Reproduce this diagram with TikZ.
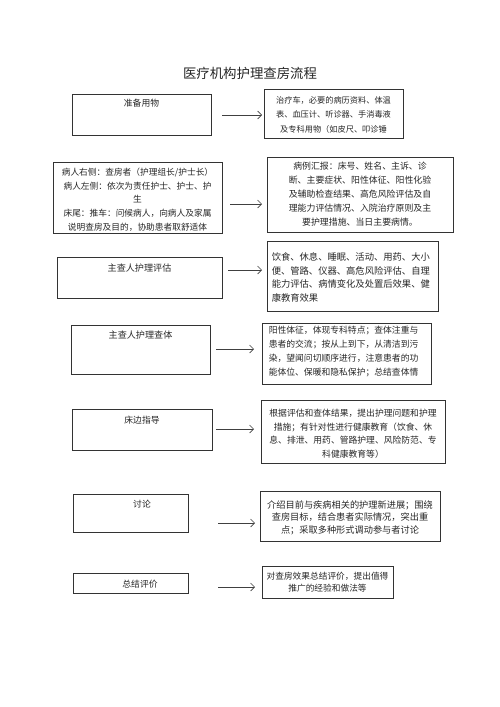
\documentclass[tikz,border=0pt]{standalone}
\usepackage{fontspec}
\setmainfont{Noto Sans CJK SC}
\usepackage{tikz}
\usetikzlibrary{arrows.meta, positioning}

\begin{document}
\begin{tikzpicture}[x=1pt, y=-1pt,
    box/.style={draw=black!80, line width=0.9pt, rectangle, inner sep=0pt},
    txt/.style={text=black!85, align=center, inner sep=0pt, font={\fontsize{8.8pt}{14pt}\selectfont}},
    arr/.style={draw=black!75, line width=0.6pt, -{Straight Barb[length=4pt, width=8pt]}}]
    \useasboundingbox (0,0) rectangle (500,707);

    \node[text=black!85, font={\fontsize{13.4pt}{16pt}\selectfont}] (title) at (250,73) {医疗机构护理查房流程};

    % left column
    \node[box, minimum width=139pt, minimum height=41pt] (l1) at (141.5,114.5) {};
    \node[box, minimum width=169pt, minimum height=71pt] (l2) at (137.5,197.5) {};
    \node[box, minimum width=165pt, minimum height=41pt] (l3) at (139.5,277.5) {};
    \node[box, minimum width=139pt, minimum height=49pt] (l4) at (140.5,349.5) {};
    \node[box, minimum width=140pt, minimum height=41pt] (l5) at (142,429.5) {};
    \node[box, minimum width=115pt, minimum height=38pt] (l6) at (130.5,513) {};
    \node[box, minimum width=115pt, minimum height=20pt] (l7) at (130.5,583) {};

    \node[txt] (t1) at ([yshift=-10pt]l1.north) {准备用物};
    \node[txt, font={\fontsize{8.7pt}{13.75pt}\selectfont}] (t2) at ([yshift=-2pt]l2.center)
        {病人右侧：查房者（护理组长/护士长）\\病人左侧：依次为责任护士、护士、护\\生\\床尾：推车：问候病人，向病人及家属\\说明查房及目的，协助患者取舒适体};
    \node[txt, font={\fontsize{9.1pt}{14pt}\selectfont}] (t3) at ([yshift=-11pt]l3.north) {主查人护理评估};
    \node[txt, font={\fontsize{9.1pt}{14pt}\selectfont}] (t4) at ([yshift=-10pt]l4.north) {主查人护理查体};
    \node[txt] (t5) at ([yshift=-12pt]l5.north) {床边指导};
    \node[txt] (t6) at ([xshift=11.5pt, yshift=-11pt]l6.north) {讨论};
    \node[txt] (t7) at ([xshift=9.5pt, yshift=-1pt]l7.center) {总结评价};

    % right column
    \node[box, minimum width=139pt, minimum height=49pt] (r1) at (333.5,113.5) {};
    \node[box, minimum width=186pt, minimum height=75pt] (r2) at (360,194.5) {};
    \node[box, minimum width=171pt, minimum height=70pt] (r3) at (352.5,276) {};
    \node[box, minimum width=169pt, minimum height=61pt] (r4) at (346.5,353.5) {};
    \node[box, minimum width=184pt, minimum height=63pt] (r5) at (353,431.5) {};
    \node[box, minimum width=180pt, minimum height=50pt] (r6) at (350,516) {};
    \node[box, minimum width=131pt, minimum height=32pt] (r7) at (327.5,582) {};

    \node[txt, font={\fontsize{8.2pt}{14.5pt}\selectfont}] (s1) at ([yshift=-1pt]r1.center)
        {治疗车，必要的病历资料、体温\\表、血压计、听诊器、手消毒液\\及专科用物（如皮尺、叩诊锤};
    \node[txt, font={\fontsize{8.9pt}{14pt}\selectfont}] (s2) at ([yshift=0.5pt]r2.center)
        {病例汇报：床号、姓名、主诉、诊\\断、主要症状、阳性体征、阳性化验\\及辅助检查结果、高危风险评估及自\\理能力评估情况、入院治疗原则及主\\要护理措施、当日主要病情。};
    \node[txt, align=left, anchor=west, font={\fontsize{9.3pt}{13.8pt}\selectfont}] (s3) at ([xshift=5pt, yshift=-1.5pt]r3.west)
        {饮食、休息、睡眠、活动、用药、大小\\便、管路、仪器、高危风险评估、自理\\能力评估、病情变化及处置后效果、健\\康教育效果};
    \node[txt, align=left, anchor=west] (s4) at ([xshift=7pt, yshift=2pt]r4.west)
        {阳性体征，体现专科特点；查体注重与\\患者的交流；按从上到下，从清洁到污\\染，望闻问切顺序进行，注意患者的功\\能体位、保暖和隐私保护；总结查体情};
    \node[txt, font={\fontsize{8.8pt}{13.5pt}\selectfont}] (s5) at ([yshift=-2pt]r5.center)
        {根据评估和查体结果，提出护理问题和护理\\措施；有针对性进行健康教育（饮食、休\\息、排泄、用药、管路护理、风险防范、专\\科健康教育等）};
    \node[txt, font={\fontsize{9.2pt}{12.5pt}\selectfont}] (s6) at ([yshift=-1.5pt]r6.center)
        {介绍目前与疾病相关的护理新进展；围绕\\查房目标，结合患者实际情况，突出重\\点；采取多种形式调动参与者讨论};
    \node[txt, font={\fontsize{8.7pt}{12pt}\selectfont}] (s7) at (r7.center)
        {对查房效果总结评价，提出值得\\推广的经验和做法等};

    % connectors
    \coordinate (a1) at (222,115);  \coordinate (b1) at (262,115);
    \coordinate (a2) at (230,204);  \coordinate (b2) at (262,204);
    \coordinate (a3) at (228,270);  \coordinate (b3) at (262,270);
    \coordinate (a4) at (216,349);  \coordinate (b4) at (254,349);
    \coordinate (a5) at (216,429);  \coordinate (b5) at (254,429);
    \coordinate (a6) at (218,523);  \coordinate (b6) at (255,523);
    \coordinate (a7) at (218,587);  \coordinate (b7) at (255,587);
    \foreach \i in {1,...,7}
        \draw[arr] (a\i) -- (b\i);
\end{tikzpicture}
\end{document}
